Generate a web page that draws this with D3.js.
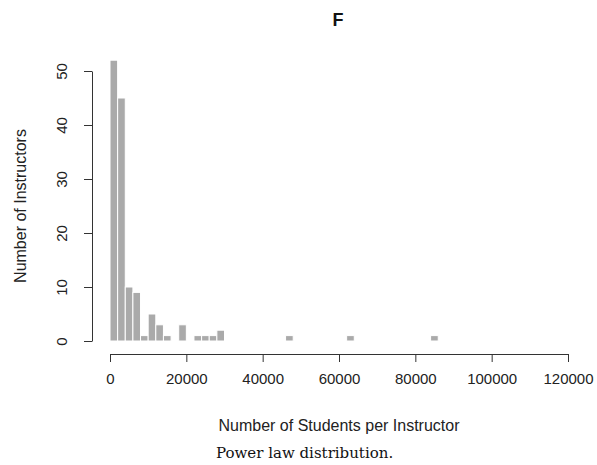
<!DOCTYPE html>
<html>
<head>
<meta charset="utf-8">
<script src="https://cdn.jsdelivr.net/npm/d3@7"></script>
<style>
  body { margin: 0; background: #fff; }
</style>
</head>
<body>
<div id="chart"></div>
<script>
// histogram bins (left edge of each 2000-wide bin) and counts
var binStarts = [0, 2000, 4000, 6000, 8000, 10000, 12000, 14000, 16000, 18000,
                 20000, 22000, 24000, 26000, 28000, 46000, 62000, 84000];
var counts    = [52, 45, 10, 9, 1, 5, 3, 1, 0, 3,
                 0, 1, 1, 1, 2, 1, 1, 1];
var binWidth = 2000;
var xTicks = [0, 20000, 40000, 60000, 80000, 100000, 120000];
var yTicks = [0, 10, 20, 30, 40, 50];

var svgWidth = 597;
var svgHeight = 465;
var sans = "'Liberation Sans', Arial, sans-serif";

var svg = d3.select("#chart")
  .append("svg")
  .attr("width", svgWidth)
  .attr("height", svgHeight);

// scales
var xScale = d3.scaleLinear().domain([0, 120000]).range([110, 568]);
var yScale = d3.scaleLinear().domain([0, 50]).range([341, 71]);

var bins = binStarts.map(function(s, i) { return {x0: s, x1: s + binWidth, n: counts[i]}; });

// bars
svg.append("g").selectAll("rect")
  .data(bins.filter(d => d.n > 0))
  .enter()
  .append("rect")
  .attr("x", d => xScale(d.x0))
  .attr("y", d => yScale(d.n))
  .attr("width", d => xScale(d.x1) - xScale(d.x0))
  .attr("height", d => yScale(0) - yScale(d.n))
  .attr("fill", "#aaaaaa")
  .attr("stroke", "#ffffff")
  .attr("stroke-width", 1);

// x axis
var xAxis = svg.append("g")
  .attr("transform", "translate(0, 354)")
  .call(d3.axisBottom(xScale).tickValues(xTicks).tickFormat(d3.format("d")).tickSize(8).tickSizeOuter(0).tickPadding(11));

// y axis
var yAxis = svg.append("g")
  .attr("transform", "translate(92, 0)")
  .call(d3.axisLeft(yScale).tickValues(yTicks).tickSize(8).tickSizeOuter(0));

// rotated y tick labels like R's default
yAxis.selectAll(".tick text")
  .attr("transform", "rotate(-90)")
  .attr("x", 0)
  .attr("y", -30)
  .attr("dy", "0.35em")
  .attr("text-anchor", "middle");

[xAxis, yAxis].forEach(function(ax) {
  ax.selectAll("text").style("font-size", "15px").style("font-family", sans).attr("fill", "#222");
  ax.selectAll("line, path").attr("stroke", "#333");
});

// title
svg.append("text")
  .attr("x", 338)
  .attr("y", 26)
  .attr("text-anchor", "middle")
  .style("font-family", sans)
  .style("font-size", "18px")
  .style("font-weight", "bold")
  .attr("fill", "#111")
  .text("F");

// axis titles
svg.append("text")
  .attr("x", 339)
  .attr("y", 431)
  .attr("text-anchor", "middle")
  .style("font-family", sans)
  .style("font-size", "16px")
  .attr("fill", "#222")
  .text("Number of Students per Instructor");

svg.append("text")
  .attr("transform", "translate(26, 206) rotate(-90)")
  .attr("text-anchor", "middle")
  .style("font-family", sans)
  .style("font-size", "16px")
  .attr("fill", "#222")
  .text("Number of Instructors");

// caption
svg.append("text")
  .attr("x", 216)
  .attr("y", 458)
  .style("font-family", "'DejaVu Serif', serif")
  .style("font-size", "15px")
  .attr("fill", "#111")
  .text("Power law distribution.");
</script>
</body>
</html>
